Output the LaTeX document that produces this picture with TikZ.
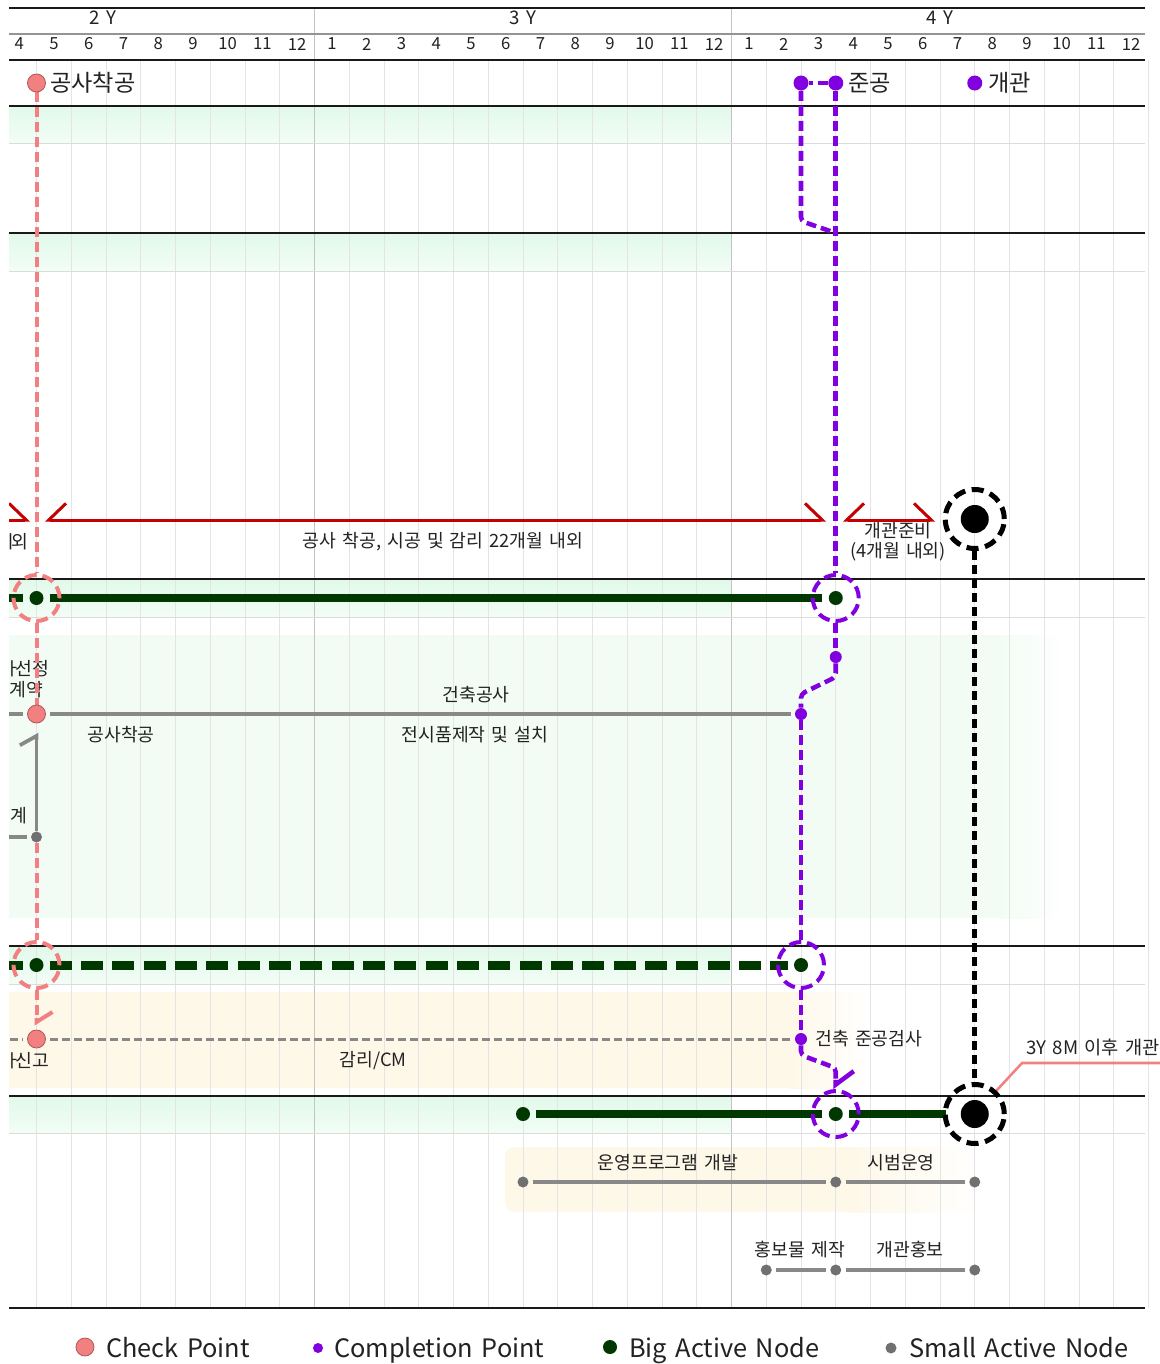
\documentclass[tikz,border=0pt]{standalone}
\usepackage{fontspec}
\setmainfont{Noto Sans CJK KR}[WordSpace=1.5]
\usetikzlibrary{arrows.meta}
\definecolor{pinkc}{RGB}{242,128,128}
\definecolor{pinkdk}{RGB}{176,88,88}
\definecolor{purp}{RGB}{128,0,224}
\definecolor{dgreen}{RGB}{0,56,0}
\definecolor{redc}{RGB}{196,0,0}
\definecolor{grayl}{RGB}{136,136,136}
\definecolor{grayd}{RGB}{112,112,112}
\definecolor{gridc}{RGB}{228,228,228}
\definecolor{yearc}{RGB}{196,196,196}
\definecolor{mintA}{RGB}{226,249,234}
\definecolor{mintB}{RGB}{242,253,246}
\definecolor{mintC}{RGB}{242,252,245}
\definecolor{cream}{RGB}{254,248,233}
\definecolor{txt}{RGB}{34,34,34}
\definecolor{hline}{RGB}{25,25,25}
\definecolor{thinl}{RGB}{220,220,220}
\pgfdeclarelayer{bg}
\pgfdeclarelayer{lines}
\pgfsetlayers{bg,lines,main}
\tikzset{
  redL/.tip={Straight Barb[left,length=13pt,width=25pt]},
  redR/.tip={Straight Barb[right,length=13pt,width=25pt]},
  pkL/.tip={Straight Barb[left,length=7.5pt,width=24pt]},
  puL/.tip={Straight Barb[left,length=10pt,width=27pt]},
  grL/.tip={Straight Barb[left,length=7pt,width=25pt]},
}
\begin{document}
\begin{tikzpicture}[x=0.75pt,y=-0.75pt,
  gridl/.style={draw=gridc, line width=0.75pt},
  yearl/.style={draw=yearc, line width=1pt},
  blk/.style={draw=hline, line width=1.8pt},
  blkthin/.style={draw=hline, line width=1.1pt},
  grythin/.style={draw=thinl, line width=0.75pt},
  hdrgray/.style={draw=black!42, line width=1.5pt},
  monthlbl/.style={font=\fontsize{12.5}{14}\selectfont, text=txt, inner sep=0pt},
  yearlbl/.style={font=\fontsize{14}{16}\selectfont, text=txt, inner sep=0pt},
  mslbl/.style={font=\fontsize{17.4}{20}\selectfont, text=txt, inner sep=0pt, anchor=west},
  lbl/.style={font=\fontsize{13.7}{16}\selectfont, text=txt, inner sep=0pt},
  smlbl/.style={font=\fontsize{14}{16}\selectfont, text=txt, inner sep=0pt},
  leglbl/.style={font=\fontsize{19}{23}\selectfont, text=txt, inner sep=0pt, anchor=base west},
  chk/.style={circle, fill=pinkc, draw=pinkdk, line width=0.6pt, minimum size=13.5pt, inner sep=0pt},
  pdot/.style={circle, fill=purp, minimum size=9pt, inner sep=0pt},
  pbig/.style={circle, fill=purp, minimum size=11.25pt, inner sep=0pt},
  gdot/.style={circle, fill=dgreen, minimum size=10.5pt, inner sep=0pt},
  sdot/.style={circle, fill=grayd, minimum size=8.25pt, inner sep=0pt},
  bdot/.style={circle, fill=black, minimum size=21pt, inner sep=0pt},
  ringp/.style={circle, draw=pinkc, line width=3pt, dash pattern=on 9pt off 4.5pt, minimum size=34.5pt, inner sep=0pt},
  ringv/.style={circle, draw=purp, line width=3pt, dash pattern=on 9pt off 4.5pt, minimum size=34.5pt, inner sep=0pt},
  ringb/.style={circle, draw=black, line width=3.75pt, dash pattern=on 9pt off 5pt, minimum size=44.25pt, inner sep=0pt},
  pinkdash/.style={draw=pinkc, line width=3pt, dash pattern=on 7.5pt off 3.75pt},
  pinkln/.style={draw=pinkc, line width=1.9pt},
  purpdash/.style={draw=purp, line width=3.4pt, dash pattern=on 7.5pt off 3.75pt, rounded corners=3pt},
  blkdash/.style={draw=black, line width=3.75pt, dash pattern=on 6.5pt off 4pt},
  gthick/.style={draw=dgreen, line width=6pt, shorten <=4.5pt, shorten >=4.5pt},
  gdash/.style={draw=dgreen, line width=6.75pt, dash pattern=on 16.5pt off 7pt, shorten <=4.5pt, shorten >=4.5pt},
  grln/.style={draw=grayl, line width=2.6pt, shorten <=3pt, shorten >=3pt},
  grdash/.style={draw=grayl, line width=2.25pt, dash pattern=on 6pt off 3pt, shorten <=3pt, shorten >=3pt},
  redarr/.style={draw=redc, line width=2.25pt},
]
\useasboundingbox (0,0) rectangle (1160,1364);

% ---------------- nodes (main layer) ----------------
% top milestones
\node[chk] (msStart) at (36.5,83) {};
\node[mslbl] (msStartL) at (50,83) {공사착공};
\node[pbig] (msDone1) at (801,83) {};
\node[pbig] (msDone2) at (835.75,83) {};
\node[mslbl] (msDoneL) at (848,83) {준공};
\node[pbig] (msOpen) at (974.75,83) {};
\node[mslbl] (msOpenL) at (988,83) {개관};

% opening nodes
\node[bdot] (openTop) at (974.75,519) {};
\node[ringb] (openTopR) at (974.75,519) {};
\node[bdot] (openBot) at (974.75,1114) {};
\node[ringb] (openBotR) at (974.75,1114) {};

% row y=598
\node[gdot] (c1) at (36.5,598) {};
\node[ringp] (c1r) at (36.5,598) {};
\node[gdot] (c2) at (835.75,598) {};
\node[ringv] (c2r) at (835.75,598) {};
% row y=714 / 837
\node[pdot] (pd1) at (835.75,657) {};
\node[chk] (d1) at (36.5,714) {};
\node[pdot] (d2) at (801,714) {};
\node[sdot] (d3) at (36.5,837) {};
% row y=965
\node[gdot] (e1) at (36.5,965) {};
\node[ringp] (e1r) at (36.5,965) {};
\node[gdot] (e2) at (801,965) {};
\node[ringv] (e2r) at (801,965) {};
% row y=1039
\node[chk] (f1) at (36.5,1039) {};
\node[pdot] (f2) at (801,1039) {};
% row y=1114
\node[gdot] (g1) at (523,1114) {};
\node[gdot] (g2) at (835.75,1114) {};
\node[ringv] (g2r) at (835.75,1114) {};
% row y=1182
\node[sdot] (h1) at (523,1182) {};
\node[sdot] (h2) at (835.75,1182) {};
\node[sdot] (h3) at (974.75,1182) {};
% row y=1270
\node[sdot] (i1) at (766.25,1270) {};
\node[sdot] (i2) at (835.75,1270) {};
\node[sdot] (i3) at (974.75,1270) {};

% legend
\node[chk] (lg1) at (85,1347) {};
\node[leglbl] (lg1t) at (106,1357) {Check Point};
\node[pdot, minimum size=7.5pt] (lg2) at (318,1348) {};
\node[leglbl] (lg2t) at (334,1357) {Completion Point};
\node[gdot] (lg3) at (610,1347) {};
\node[leglbl] (lg3t) at (629,1357) {Big Active Node};
\node[sdot] (lg4) at (891,1348) {};
\node[leglbl] (lg4t) at (909,1357) {Small Active Node};

% free ends and bends
\coordinate (cL) at (-30,598);
\coordinate (eL) at (-30,965);
\coordinate (dL) at (-30,714);
\coordinate (dL2) at (-30,837);
\coordinate (fL) at (-30,1039);
\coordinate (pb1) at (801,221);
\coordinate (pb2) at (835.75,233);
\coordinate (pb3) at (835.75,677);
\coordinate (pb4) at (801,694);
\coordinate (pb5) at (801,1055);
\coordinate (pb6) at (835.75,1068);
\coordinate (k1) at (1022,1063);
\coordinate (k2) at (1170,1063);
\coordinate (r1a) at (-30,520);
\coordinate (r1b) at (30,520);
\coordinate (r2a) at (45,520);
\coordinate (r2b) at (826,520);
\coordinate (r3a) at (843,520);
\coordinate (r3b) at (935,520);

% ---------------- background layer ----------------
\begin{pgfonlayer}{bg}
\begin{scope}
\clip (9,0) rectangle (1160,1364);
\fill[white] (0,0) rectangle (1160,1364);
% bands
\shade[top color=mintA, bottom color=mintB] (0,107) rectangle (731.5,143);
\shade[top color=mintA, bottom color=mintB] (0,234) rectangle (731.5,271);
\shade[top color=mintA, bottom color=mintB] (0,580) rectangle (731.5,617);
\shade[top color=mintA, bottom color=mintB] (0,947) rectangle (731.5,984);
\shade[top color=mintA, bottom color=mintB] (0,1097) rectangle (731.5,1133);
\fill[mintC] (0,635) rectangle (1000,918);
\shade[left color=mintC, right color=white] (1000,635) rectangle (1065,918);
\fill[cream] (0,992) rectangle (790,1088);
\shade[left color=cream, right color=white] (790,992) rectangle (870,1088);
\fill[cream, rounded corners=7pt] (505,1147) rectangle (880,1212);
\shade[left color=cream, right color=white] (850,1147) rectangle (985,1212);
% grid
\foreach \i in {-1,...,32} \draw[gridl] ({36.5+34.75*\i},60) -- ({36.5+34.75*\i},1308);
\draw[yearl] (314.5,8) -- (314.5,1308);
\draw[yearl] (731.5,8) -- (731.5,1308);
% horizontal rules
\draw[blk] (0,8) -- (1145,8);
\draw[hdrgray] (0,34) -- (1145,34);
\draw[blk] (0,60) -- (1145,60);
\draw[blk] (0,106) -- (1145,106);
\draw[grythin] (0,143) -- (1145,143);
\draw[blk] (0,233) -- (1145,233);
\draw[grythin] (0,271) -- (1145,271);
\draw[blkthin] (0,579) -- (1145,579);
\draw[grythin] (0,617) -- (1145,617);
\draw[blkthin] (0,946) -- (1145,946);
\draw[grythin] (0,984) -- (1145,984);
\draw[blkthin] (0,1096) -- (1145,1096);
\draw[grythin] (0,1133) -- (1145,1133);
\draw[blk] (0,1308) -- (1145,1308);
\end{scope}
% header labels
\node[yearlbl] (y2) at (103,18) {2 Y};
\node[yearlbl] (y3) at (523,18) {3 Y};
\node[yearlbl] (y4) at (940,18) {4 Y};
\foreach \m [count=\i from -1] in {4,5,6,7,8,9,10,11,12,1,2,3,4,5,6,7,8,9,10,11,12,1,2,3,4,5,6,7,8,9,10,11,12}
  \node[monthlbl] (mo\i) at ({36.5+34.75*\i+17.375},44) {\m};
% texts
\node[lbl, anchor=west] (tA) at (10,542) {\kern-0.42em ㅣ\kern-0.42em 외};
\node[lbl] (tB) at (443,542) {공사 착공, 시공 및 감리 22개월 내외};
\node[lbl] (tC1) at (898,531) {개관준비};
\node[lbl] (tC2) at (898,552) {(4개월 내외)};
\node[lbl, anchor=west] (tD1) at (10,669) {\kern-0.3em ㅏ\kern-0.32em 선정};
\node[lbl, anchor=west] (tD2) at (9.5,690) {계약};
\node[lbl] (tD3) at (476,695) {건축공사};
\node[lbl] (tD4) at (121,735) {공사착공};
\node[lbl] (tD5) at (475,735) {전시품제작 및 설치};
\node[lbl, anchor=west] (tD6) at (10.5,816) {계};
\node[lbl, anchor=west] (tF1) at (815,1039) {건축 준공검사};
\node[lbl, anchor=west] (tF2) at (10,1061) {\kern-0.3em ㅏ\kern-0.32em 신고};
\node[lbl] (tF3) at (373,1061) {감리/CM};
\node[smlbl, anchor=west] (tK) at (1026,1047) {3Y 8M 이후 개관};
\node[lbl] (tH1) at (668,1163) {운영프로그램 개발};
\node[lbl] (tH2) at (901,1163) {시범운영};
\node[lbl] (tI1) at (800,1250) {홍보물 제작};
\node[lbl] (tI2) at (910,1250) {개관홍보};
\end{pgfonlayer}

% ---------------- connectors ----------------
\begin{pgfonlayer}{lines}
\begin{scope}
\clip (9,0) rectangle (1160,1364);
% red duration arrows
\draw[redarr, -{redL}] (r1a) -- (r1b);
\draw[redarr, {redR}-{redL}] (r2a) -- (r2b);
\draw[redarr, {redR}-{redL}] (r3a) -- (r3b);
% green bars
\draw[gthick] (cL) -- (c1);
\draw[gthick] (c1) -- (c2);
\draw[gdash] (eL) -- (e1);
\draw[gdash] (e1) -- (e2);
\draw[gthick] (g1) -- (g2);
\draw[gthick, shorten >=10.5pt] (g2) -- (openBot);
% grey task lines
\draw[grln] (dL) -- (d1);
\draw[grln] (d1) -- (d2);
\draw[grln] (dL2) -- (d3);
\draw[grdash] (fL) -- (f1);
\draw[grdash] (f1) -- (f2);
\draw[grln] (h1) -- (h2);
\draw[grln] (h2) -- (h3);
\draw[grln] (i1) -- (i2);
\draw[grln] (i2) -- (i3);
% pink check-point path
\draw[pinkdash] (msStart) -- (c1r);
\draw[pinkdash] (c1r) -- (d1);
\draw[pinkdash] (d3) -- (e1r);
\draw[pinkdash, -{pkL}, shorten >=3pt] (e1r) -- (f1);
\draw[draw=grayl, line width=2.8pt, -{grL}, shorten >=7pt] (d3) -- (d1);
% purple completion path
\draw[purpdash] (msDone2) -- (msDone1);
\draw[purpdash] (msDone1) -- (pb1) -- (pb2);
\draw[purpdash] (msDone2) -- (c2r);
\draw[purpdash] (c2r) -- (pd1);
\draw[purpdash] (pd1) -- (pb3) -- (pb4) -- (d2);
\draw[purpdash] (d2) -- (e2r);
\draw[purpdash] (e2r) -- (f2);
\draw[purpdash, -{puL}] (f2) -- (pb5) -- (pb6) -- (g2r);
% opening
\draw[blkdash] (openTopR) -- (openBotR);
\draw[pinkln] (openBotR) -- (k1) -- (k2);
\end{scope}
\end{pgfonlayer}
\end{tikzpicture}
\end{document}
